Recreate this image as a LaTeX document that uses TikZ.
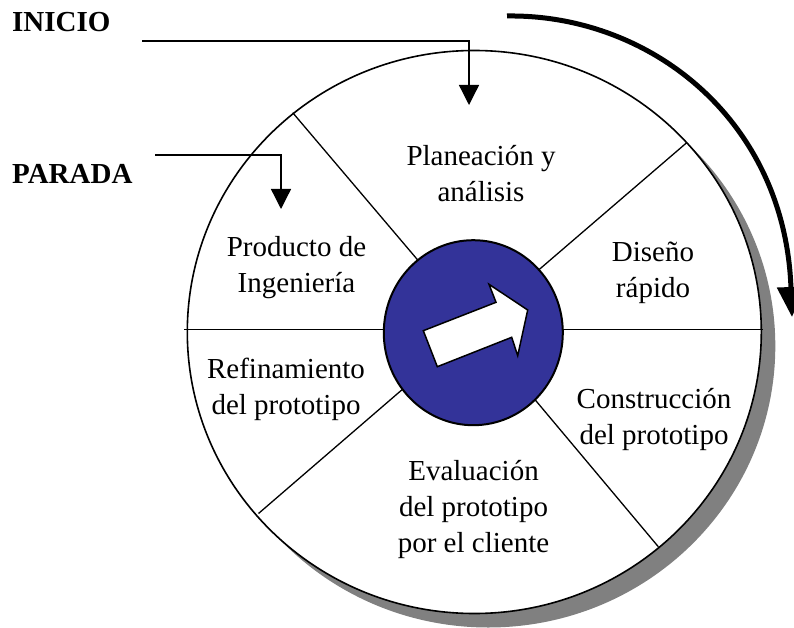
\documentclass[tikz,border=0pt]{standalone}
\usepackage{fontspec}
\setmainfont{Liberation Serif}
\usetikzlibrary{arrows.meta,calc}
\definecolor{cblue}{RGB}{51,51,153}
\definecolor{shadowgrey}{RGB}{128,128,128}
\begin{document}
\begin{tikzpicture}[x=1pt,y=1pt,
  lbl/.style={anchor=base, inner sep=0pt, font=\fontsize{29}{36}\selectfont},
  side/.style={anchor=base west, inner sep=0pt, font=\fontsize{29}{36}\selectfont\bfseries},
  conn/.style={line width=1.3pt, -{Triangle[length=20pt,width=20pt]}},
  divider/.style={line width=1.3pt},
  bigarrow/.style={line width=5pt, -{Triangle[length=30pt,width=27pt]}}]
\useasboundingbox (0,0) rectangle (794,-628);
% shadow and wheel
\fill[shadowgrey] (488.3,-346) ellipse [x radius=287, y radius=281.5];
\draw[fill=white, line width=1.6pt] (474.3,-332) ellipse [x radius=287, y radius=281.5];
% divider coordinates
\coordinate (ul) at (292.7,-112.7);
\coordinate (uli) at (416.7,-258.8);
\coordinate (ur) at (686.7,-142.7);
\coordinate (uri) at (540,-268.8);
\coordinate (lr) at (658.3,-546.7);
\coordinate (lri) at (536.7,-401.7);
\coordinate (ll) at (258.5,-513.5);
\coordinate (lli) at (401.7,-390);
\coordinate (hl) at (184,-329.5);
\coordinate (hr) at (763,-329.5);
\draw[divider] (ul) -- ($(ul)!1.15!(uli)$);
\draw[divider] (ur) -- ($(ur)!1.15!(uri)$);
\draw[divider] (lr) -- ($(lr)!1.15!(lri)$);
\draw[divider] (ll) -- ($(ll)!1.15!(lli)$);
\draw[divider] (hl) -- (hr);
% hub
\draw[fill=cblue, line width=2pt] (473.3,-332.7) ellipse [x radius=89.5, y radius=92.5];
\draw[fill=white, line width=1.5pt, line join=miter]
  (423.3,-330.7) -- (496,-302.3) -- (489,-284.3) -- (527.7,-310)
  -- (517.7,-355.7) -- (511.7,-337.3) -- (437.3,-366.7) -- cycle;
% labels
\node[lbl] (plan1) at (481,-166) {Planeación y};
\node[lbl] (plan2) at (481,-202) {análisis};
\node[lbl] (dis1) at (653,-261) {Diseño};
\node[lbl] (dis2) at (653,-297) {rápido};
\node[lbl] (prod1) at (296.5,-256) {Producto de};
\node[lbl] (prod2) at (296.5,-292) {Ingeniería};
\node[lbl] (ref1) at (286,-378.5) {Refinamiento};
\node[lbl] (ref2) at (286,-414.5) {del prototipo};
\node[lbl] (con1) at (654,-408) {Construcción};
\node[lbl] (con2) at (654,-444) {del prototipo};
\node[lbl] (ev1) at (473.5,-480) {Evaluación};
\node[lbl] (ev2) at (473.5,-516) {del prototipo};
\node[lbl] (ev3) at (473.5,-552) {por el cliente};
\node[side] (inicio) at (12,-32) {INICIO};
\node[side] (parada) at (12,-184) {PARADA};
% connectors
\coordinate (iniS) at (142,-41);
\coordinate (iniE) at (469,-105);
\draw[conn] (iniS) -| (iniE);
\coordinate (parS) at (155,-155);
\coordinate (parE) at (281,-209);
\draw[conn] (parS) -| (parE);
% big rotation arrow
\coordinate (rotS) at (507,-16);
\coordinate (rotE) at (792,-317);
\draw[bigarrow] (rotS) .. controls (650,-14) and (785,-120) .. (rotE);
\end{tikzpicture}
\end{document}
